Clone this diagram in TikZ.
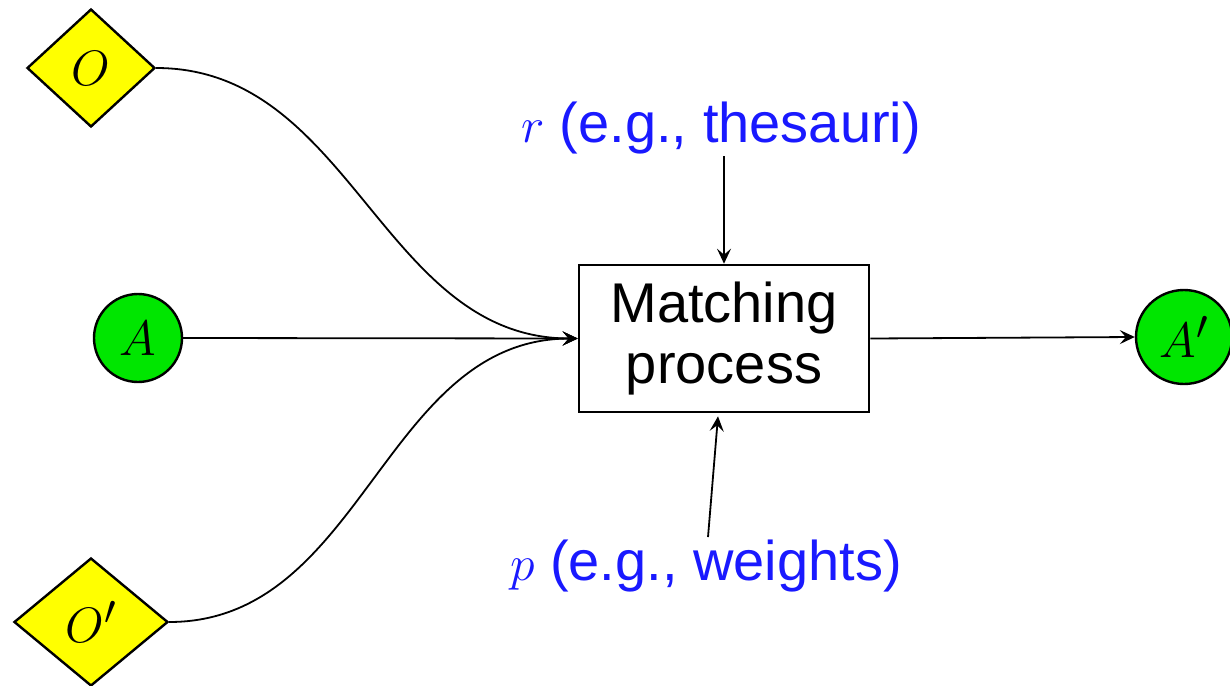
\documentclass[tikz,border=0pt]{standalone}
\usepackage{fontspec}
\setmainfont{Liberation Sans}
\usetikzlibrary{shapes.geometric,arrows.meta}
\definecolor{diayellow}{RGB}{255,255,0}
\definecolor{nodegreen}{RGB}{0,230,0}
\definecolor{labelblue}{RGB}{25,25,255}
\begin{document}
\begin{tikzpicture}[x=0.5pt,y=-0.5pt,
  big/.style={font=\fontsize{28}{30.5}\selectfont},
  dia/.style={shape=diamond,draw,line width=1.2pt,fill=diayellow,inner sep=0pt,big},
  ell/.style={shape=ellipse,draw,line width=1.2pt,fill=nodegreen,inner sep=0pt,big},
  procbox/.style={draw,line width=1.3pt,align=center,big,minimum width=145pt,minimum height=73.5pt,inner sep=0pt},
  lbl/.style={text=labelblue,big,inner sep=1pt},
  conn/.style={line width=0.9pt,-{Stealth[length=7.5pt,width=7pt,inset=3pt]}}
]
\useasboundingbox (0,0) rectangle (1230,685);
\node[dia,minimum width=64pt,minimum height=59pt] (O) at (91,68) {$O$};
\node[dia,minimum width=77pt,minimum height=64pt] (Op) at (91,622) {$O'$};
\node[ell,minimum width=44pt,minimum height=44pt] (A) at (138,338) {$A$};
\node[ell,minimum width=48pt,minimum height=47pt] (Ap) at (1184,337) {$A'$};
\node[procbox] (M) at (724,338.5) {Matching\\process};
\node[lbl,anchor=base] (r) at (721,142) {$r$ (e.g., thesauri)};
\node[lbl,anchor=base] (p) at (706,580) {$p$ (e.g., weights)};
\draw[conn] (O.east) to[out=0,in=180] (M.west);
\draw[conn] (A.east) -- (M.west);
\draw[conn] (Op.east) to[out=0,in=180] (M.west);
\draw[conn] (M.east) -- (Ap.west);
\draw[conn] (M.north |- r.south) -- (M.north);
\draw[conn] ([xshift=1pt]p.north) -- ([xshift=-3pt,yshift=-1.5pt]M.south);
\end{tikzpicture}
\end{document}
